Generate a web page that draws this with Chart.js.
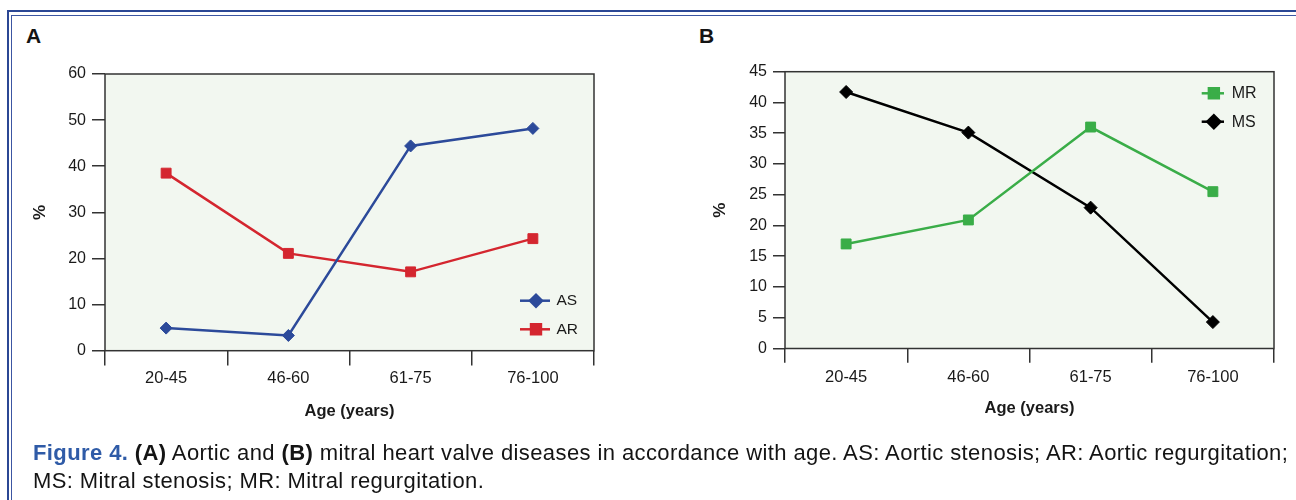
<!DOCTYPE html>
<html>
<head>
<meta charset="utf-8">
<script src="https://cdn.jsdelivr.net/npm/chart.js@4.4.1/dist/chart.umd.min.js"></script>
<style>
  body { margin: 0; width: 1296px; height: 500px; overflow: hidden; position: relative; background: #fff;
         font-family: "Liberation Sans", Arial, sans-serif; color: #141414; }
  .frame1 { position: absolute; left: 7px; top: 10px; width: 2000px; height: 1000px;
            border-top: 2.5px solid #2b4794; border-left: 2.5px solid #2b4794; }
  .frame2 { position: absolute; left: 11px; top: 14.5px; width: 2000px; height: 1000px;
            border-top: 1px solid #3c56a2; border-left: 1px solid #3c56a2; }
  .panel { position: absolute; top: 25px; font-weight: bold; font-size: 21px; line-height: 21px; }
  canvas { position: absolute; top: 0; }
  .caption { position: absolute; left: 33px; top: 439px; font-size: 22px; line-height: 28px;
             letter-spacing: 0.4px; white-space: nowrap; }
  .caption .fig { color: #2f5ba7; font-weight: bold; }
</style>
</head>
<body>
<div class="frame1"></div>
<div class="frame2"></div>
<div class="panel" style="left:26px">A</div>
<div class="panel" style="left:699px">B</div>
<canvas id="chartA" width="650" height="440" style="left:0"></canvas>
<canvas id="chartB" width="646" height="440" style="left:650px"></canvas>
<div class="caption"><span class="fig">Figure 4.</span> <b>(A)</b> Aortic and <b>(B)</b> mitral heart valve diseases in accordance with age. AS: Aortic stenosis; AR: Aortic regurgitation;<br>MS: Mitral stenosis; MR: Mitral regurgitation.</div>
<script>
// data
const ageGroups = ['20-45', '46-60', '61-75', '76-100'];
const asValues = [4.9, 3.3, 44.4, 48.2];
const arValues = [38.5, 21.1, 17.1, 24.3];
const mrValues = [17.0, 20.9, 36.0, 25.5];
const msValues = [41.7, 35.1, 22.9, 4.3];
const yTicksA = [0, 10, 20, 30, 40, 50, 60];
const yTicksB = [0, 5, 10, 15, 20, 25, 30, 35, 40, 45];

Chart.defaults.font.family = '"Liberation Sans", Arial, sans-serif';
Chart.defaults.color = '#1a1a1a';

const AXIS = '#333';

// light green plot background with a dark frame
const plotBox = {
  id: 'plotBox',
  beforeDraw(chart) {
    const { ctx, chartArea: a } = chart;
    ctx.save();
    ctx.fillStyle = '#f2f7f0';
    ctx.fillRect(a.left, a.top, a.right - a.left, a.bottom - a.top);
    ctx.restore();
  },
  beforeDatasetsDraw(chart) {
    const { ctx, chartArea: a } = chart;
    ctx.save();
    ctx.strokeStyle = AXIS;
    ctx.lineWidth = 1.5;
    ctx.strokeRect(a.left, a.top, a.right - a.left, a.bottom - a.top);
    ctx.restore();
  }
};

// legend drawn inside the plot, like the original
const innerLegend = {
  id: 'innerLegend',
  afterDatasetsDraw(chart, args, opts) {
    const { ctx } = chart;
    chart.data.datasets.forEach((ds, i) => {
      const y = opts.rows[i];
      ctx.save();
      ctx.strokeStyle = ds.borderColor;
      ctx.lineWidth = 2.5;
      ctx.beginPath();
      ctx.moveTo(opts.x0, y);
      ctx.lineTo(opts.x1, y);
      ctx.stroke();
      ctx.fillStyle = ds.borderColor;
      ctx.strokeStyle = ds.borderColor;
      Chart.helpers.drawPoint(ctx, {
        pointStyle: ds.pointStyle, radius: ds.pointRadius, rotation: 0, borderWidth: 1
      }, (opts.x0 + opts.x1) / 2 + 1, y);
      ctx.fillStyle = '#1a1a1a';
      ctx.font = opts.fontSize + 'px "Liberation Sans", Arial, sans-serif';
      ctx.textBaseline = 'middle';
      ctx.fillText(ds.label, opts.textX, y + 0.5);
      ctx.restore();
    });
  }
};

function series(label, values, color, style, radius) {
  return {
    label, data: values, borderColor: color, backgroundColor: color,
    borderWidth: 2.5, tension: 0, pointStyle: style, pointRadius: radius,
    pointBorderWidth: 1, pointBorderColor: color, pointBackgroundColor: color
  };
}

function buildChart(id, cfg) {
  return new Chart(document.getElementById(id), {
    type: 'line',
    data: { labels: ageGroups, datasets: cfg.datasets },
    options: {
      responsive: false,
      animation: false,
      devicePixelRatio: 1,
      layout: { padding: cfg.pad },
      plugins: {
        legend: { display: false },
        tooltip: { enabled: false },
        innerLegend: cfg.legend
      },
      scales: {
        x: {
          offset: true,
          grid: { offset: true, drawOnChartArea: false, tickLength: cfg.xTick, color: AXIS, lineWidth: 1.5 },
          border: { display: false },
          ticks: { padding: cfg.xPad, font: { size: 16.5 }, color: '#1a1a1a', maxRotation: 0 },
          title: { display: true, text: 'Age (years)', font: { size: 16.5, weight: 'bold' }, padding: 0, color: '#1a1a1a' },
          afterFit: s => { s.height = cfg.xHeight; }
        },
        y: {
          min: cfg.yTicks[0],
          max: cfg.yTicks[cfg.yTicks.length - 1],
          grid: { drawOnChartArea: false, tickLength: cfg.yTick, color: AXIS, lineWidth: 1.5 },
          border: { display: false },
          ticks: { stepSize: cfg.yTicks[1] - cfg.yTicks[0], padding: 6, font: { size: 16 }, color: '#1a1a1a' },
          title: { display: true, text: '%', font: { size: 17, weight: 'bold' }, padding: { top: cfg.pctPad, bottom: 0 }, color: '#1a1a1a' },
          afterFit: s => { s.width = cfg.yWidth; }
        }
      }
    },
    plugins: [plotBox, innerLegend]
  });
}

buildChart('chartA', {
  datasets: [
    series('AS', asValues, '#2c4a9a', 'rectRot', 6),
    series('AR', arValues, '#d4262f', 'rect', 7)
  ],
  yTicks: yTicksA,
  pad: { left: 0, top: 74, right: 56, bottom: 18.4 },
  yWidth: 105, yTick: 13, pctPad: 30,
  xHeight: 70.9, xTick: 14.7, xPad: 3.5,
  legend: { x0: 520, x1: 550, textX: 556.5, rows: [300.7, 329.3], fontSize: 15.5 }
});

buildChart('chartB', {
  datasets: [
    series('MR', mrValues, '#3aad48', 'rect', 7),
    series('MS', msValues, '#000000', 'rectRot', 6.5)
  ],
  yTicks: yTicksB,
  pad: { left: 0, top: 71.7, right: 22, bottom: 21.8 },
  yWidth: 135, yTick: 12, pctPad: 60,
  xHeight: 69.7, xTick: 14.3, xPad: 4.5,
  legend: { x0: 551.7, x1: 574, textX: 581.7, rows: [93.3, 121.7], fontSize: 16 }
});
</script>
</body>
</html>
